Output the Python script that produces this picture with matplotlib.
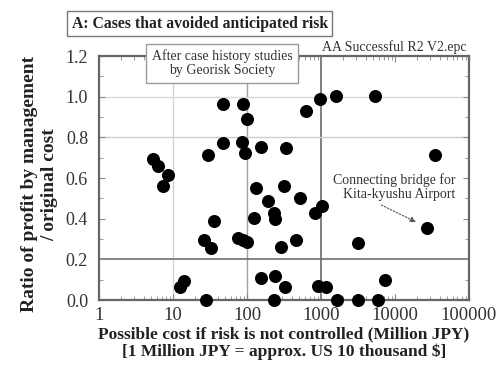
import numpy as np
import matplotlib.pyplot as plt
from matplotlib.ticker import FixedLocator, NullFormatter

plt.rcParams["font.family"] = ["Liberation Serif", "DejaVu Serif"]

# Possible cost (Million JPY) and profit ratio for each case
cost = [
    5.3, 6.2, 8.6, 7.2, 29.7, 47, 47, 87, 99, 630,
    967, 1580, 85, 93, 152, 339, 134, 318, 35.7, 26,
    32.6, 14.2, 12.5, 28, 189, 522, 123, 234, 242, 1028,
    828, 75, 87, 99, 290, 461, 152, 242, 329, 909,
    1163, 234, 1630, 5430, 34500, 27000, 3120, 7400, 3210, 5960,
]
ratio = [
    0.695, 0.66, 0.616, 0.56, 0.714, 0.965, 0.773, 0.965, 0.89, 0.93,
    0.99, 1.005, 0.78, 0.724, 0.754, 0.749, 0.55, 0.56, 0.39, 0.296,
    0.256, 0.094, 0.064, 0.0, 0.488, 0.502, 0.404, 0.43, 0.40, 0.463,
    0.43, 0.305, 0.296, 0.286, 0.26, 0.296, 0.108, 0.118, 0.064, 0.069,
    0.064, 0.0, 0.0, 1.005, 0.714, 0.355, 0.28, 0.098, 0.0, 0.0,
]

x_ticks = [1, 10, 100, 1000, 10000, 100000]
x_tick_labels = ["1", "10", "100", "1000", "10000", "100000"]
y_ticks = [0.0, 0.2, 0.4, 0.6, 0.8, 1.0, 1.2]

fig = plt.figure(figsize=(5.01, 3.77), dpi=100)
ax = fig.add_axes([0.198, 0.204, 0.738, 0.647])

ax.set_xscale("log")
ax.set_xlim(1, 100000)
ax.set_ylim(0, 1.2)

# reference lines
ax.axvline(10, color="#d2d2d2", lw=1.0, zorder=1)
ax.axvline(100, color="#a0a0a0", lw=1.0, zorder=1)
ax.axvline(1000, color="#6a6a6a", lw=1.2, zorder=1)
ax.axhline(0.2, color="#707070", lw=1.2, zorder=1)
ax.axhline(0.8, color="#cccccc", lw=1.0, zorder=1)
ax.axhline(1.0, color="#dadada", lw=1.0, zorder=1)

ax.scatter(cost, ratio, s=70, color="black", zorder=3, clip_on=False)

ax.set_xticks(x_ticks)
ax.set_xticklabels(x_tick_labels)
ax.xaxis.set_minor_locator(FixedLocator(
    [m * 10 ** e for e in range(0, 5) for m in range(2, 10)]))
ax.xaxis.set_minor_formatter(NullFormatter())
ax.set_yticks(y_ticks)
ax.set_yticklabels([f"{v:.1f}" for v in y_ticks])
ax.yaxis.set_minor_locator(FixedLocator([0.1, 0.3, 0.5, 0.7, 0.9, 1.1]))

ax.tick_params(which="both", direction="in", top=True, right=True,
               color="#888888", labelcolor="#333333")
ax.tick_params(axis="x", which="major", labelsize=13.5, pad=5)
ax.tick_params(axis="y", which="major", labelsize=13, pad=8)
ax.tick_params(which="major", length=4, width=0.8)
ax.tick_params(which="minor", length=3, width=0.6)

for spine in ax.spines.values():
    spine.set_color("#666666")
    spine.set_linewidth(1.6)

ax.set_xlabel("Possible cost if risk is not controlled (Million JPY)\n"
              "[1 Million JPY = approx. US 10 thousand $]",
              fontsize=12.5, fontweight="bold", color="#222222", labelpad=2,
              linespacing=1.05)
ax.set_ylabel("Ratio of profit by management\n/ original cost",
              fontsize=14, fontweight="bold", color="#222222",
              linespacing=1.3)
ax.yaxis.set_label_coords(-0.11, 0.475)

fig.text(0.143, 0.937, "A: Cases that avoided anticipated risk",
         fontsize=11.3, fontweight="bold", color="#222222", va="center",
         bbox=dict(boxstyle="square,pad=0.3", fc="white", ec="#777777", lw=1.0))

fig.text(0.443, 0.832, "After case history studies\nby Georisk Society",
         fontsize=10, color="#333333", ha="center", va="center", linespacing=1.1,
         bbox=dict(boxstyle="square,pad=0.4", fc="white", ec="#999999", lw=1.0),
         zorder=10)

fig.text(0.787, 0.876, "AA Successful R2 V2.epc", fontsize=10,
         color="#333333", ha="center", va="center")

ax.text(66000, 0.557, "Connecting bridge for\nKita-kyushu Airport",
        ha="right", va="center", fontsize=10, color="#333333",
        linespacing=1.05, zorder=4)
ax.annotate("", xy=(19200, 0.384), xytext=(6530, 0.468),
            arrowprops=dict(arrowstyle="-|>", ls=(0, (1.5, 1.5)),
                            color="#555555", lw=0.8, mutation_scale=8,
                            shrinkA=0, shrinkB=0),
            zorder=4)

fig.savefig("out.png", dpi=100)
